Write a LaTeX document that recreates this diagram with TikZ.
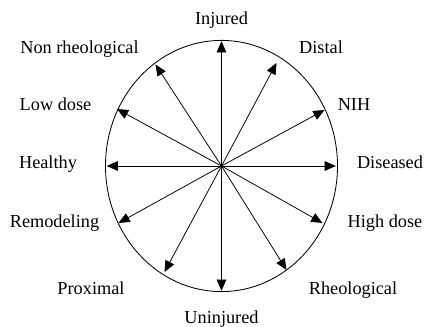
\documentclass[tikz,border=0pt]{standalone}
\usepackage{fontspec}
\setmainfont{Liberation Serif}
\usepackage{tikz}
\usetikzlibrary{arrows.meta}

\begin{document}
\begin{tikzpicture}[
    lbl/.style = {anchor=base, inner sep=0pt, font=\rmfamily\fontsize{13}{15}\selectfont},
    arr/.style = {-{Triangle[length=0.28cm, width=0.24cm]}, line width=0.55pt}
  ]
  \useasboundingbox (-5.5375,-4.025) rectangle (5.0625,4.15);

  % -- outer ellipse and centre --------------------------------------------
  \coordinate (ctr) at (0,0);
  \draw[line width=0.6pt] (ctr) ellipse [x radius=2.9cm, y radius=3.14cm];

  % -- arrow tips ----------------------------------------------------------
  \coordinate (tInjured)   at ( 0,      3.12);
  \coordinate (tDistal)    at ( 1.375,  2.575);
  \coordinate (tNIH)       at ( 2.575,  1.4);
  \coordinate (tDiseased)  at ( 2.86,   0);
  \coordinate (tHigh)      at ( 2.525, -1.425);
  \coordinate (tRheo)      at ( 1.625, -2.6);
  \coordinate (tUninjured) at ( 0,     -3.12);
  \coordinate (tProximal)  at (-1.425, -2.65);
  \coordinate (tRemodel)   at (-2.575, -1.425);
  \coordinate (tHealthy)   at (-2.87,   0);
  \coordinate (tLow)       at (-2.6125, 1.425);
  \coordinate (tNonRheo)   at (-1.65,   2.5375);

  % -- arrows --------------------------------------------------------------
  \draw[arr] (ctr) -- (tInjured);
  \draw[arr] (ctr) -- (tDistal);
  \draw[arr] (ctr) -- (tNIH);
  \draw[arr] (ctr) -- (tDiseased);
  \draw[arr] (ctr) -- (tHigh);
  \draw[arr] (ctr) -- (tRheo);
  \draw[arr] (ctr) -- (tUninjured);
  \draw[arr] (ctr) -- (tProximal);
  \draw[arr] (ctr) -- (tRemodel);
  \draw[arr] (ctr) -- (tHealthy);
  \draw[arr] (ctr) -- (tLow);
  \draw[arr] (ctr) -- (tNonRheo);

  % -- labels --------------------------------------------------------------
  \node[lbl] (injured)   at ( 0,      3.525) {Injured};
  \node[lbl] (distal)    at ( 2.4875, 2.8)   {Distal};
  \node[lbl] (nih)       at ( 3.3125, 1.375) {NIH};
  \node[lbl] (diseased)  at ( 4.2125,-0.075) {Diseased};
  \node[lbl] (highdose)  at ( 4.0875,-1.525) {High dose};
  \node[lbl] (rheo)      at ( 3.2875,-3.2)   {Rheological};
  \node[lbl] (uninjured) at ( 0,     -3.925) {Uninjured};
  \node[lbl] (proximal)  at (-3.2625,-3.2)   {Proximal};
  \node[lbl] (remodel)   at (-4.175, -1.525) {Remodeling};
  \node[lbl] (healthy)   at (-4.3375,-0.075) {Healthy};
  \node[lbl] (lowdose)   at (-4.15,   1.375) {Low dose};
  \node[lbl] (nonrheo)   at (-3.55,   2.8)   {Non rheological};

\end{tikzpicture}
\end{document}
